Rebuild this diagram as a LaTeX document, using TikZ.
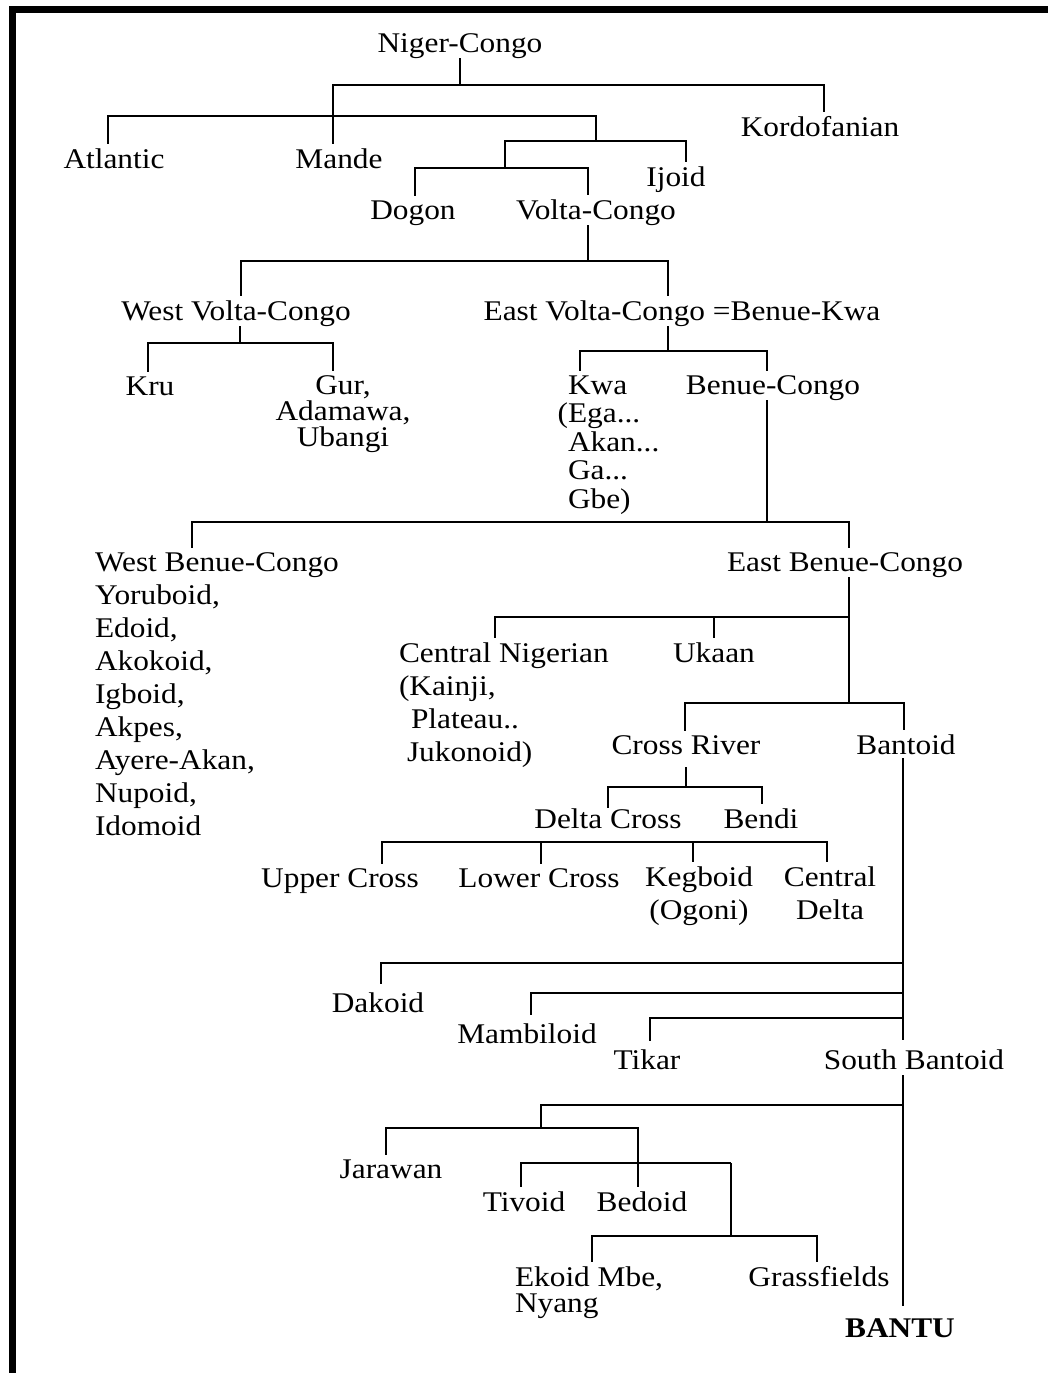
\documentclass[tikz,border=0pt]{standalone}
\usepackage{fontspec}
\setmainfont{Liberation Serif}[FakeStretch=1.1]
\begin{document}
\begin{tikzpicture}[x=1pt, y=-1pt, line width=1.8pt]
  \tikzstyle{lbl}=[inner sep=0pt, outer sep=0pt, anchor=base,
                   font=\fontsize{28.5}{33}\selectfont]
  \tikzstyle{lblleft}=[lbl, anchor=base west, align=left]
  \tikzstyle{drop}=[shorten >=4pt]
\useasboundingbox (0,0) rectangle (1048,1373);
\draw[line width=7pt] (12.5,1373) -- (12.5,9.5) -- (1048,9.5);
% top levels (multi-line nodes sit on their last baseline)
\node[lbl] (nc) at (460,52) {Niger-Congo};
\node[lbl] (kord) at (820,136) {Kordofanian};
\node[lbl] (atl) at (114,168) {Atlantic};
\node[lbl] (mande) at (339,168) {Mande};
\node[lbl] (ijoid) at (676,186) {Ijoid};
\node[lbl] (dogon) at (413,219) {Dogon};
\node[lbl] (vc) at (596,219) {Volta-Congo};
\node[lbl] (wvc) at (236,320) {West Volta-Congo};
\node[lbl] (evc) at (682,320) {East Volta-Congo =Benue-Kwa};
\node[lbl] (kru) at (150,395) {Kru};
\node[lbl, align=center, font=\fontsize{28.5}{26}\selectfont] (gur) at (343,446) {Gur,\\Adamawa,\\Ubangi};
\node[lblleft, font=\fontsize{28.5}{28.5}\selectfont] (kwa) at (568,508) {Kwa\\\llap{(}Ega...\\Akan...\\Ga...\\Gbe)};
\node[lbl] (bc) at (773,394) {Benue-Congo};
% Benue-Congo
\node[lblleft] (wbc) at (95,835) {West Benue-Congo\\Yoruboid,\\Edoid,\\Akokoid,\\Igboid,\\Akpes,\\Ayere-Akan,\\Nupoid,\\Idomoid};
\node[lbl] (ebc) at (845,571) {East Benue-Congo};
\node[lblleft] (cn) at (399,761) {Central Nigerian\\(Kainji,\\\hspace*{12pt}Plateau..\\\hspace*{8pt}Jukonoid)};
\node[lbl] (ukaan) at (714,662) {Ukaan};
\node[lbl] (cr) at (686,754) {Cross River};
\node[lbl] (bantoid) at (906,754) {Bantoid};
\node[lbl] (dc) at (608,828) {Delta Cross};
\node[lbl] (bendi) at (761,828) {Bendi};
\node[lbl] (upc) at (340,887) {Upper Cross};
\node[lbl] (lwc) at (539,887) {Lower Cross};
\node[lbl, align=center] (keg) at (699,919) {Kegboid\\(Ogoni)};
\node[lbl, align=center] (cd) at (830,919) {Central\\Delta};
% Bantoid
\node[lbl] (dak) at (378,1012) {Dakoid};
\node[lbl] (mamb) at (527,1043) {Mambiloid};
\node[lbl] (tikar) at (647,1069) {Tikar};
\node[lbl] (sb) at (914,1069) {South Bantoid};
\node[lbl] (jar) at (391,1178) {Jarawan};
\node[lbl] (tiv) at (524,1211) {Tivoid};
\node[lbl] (bed) at (642,1211) {Bedoid};
\node[lblleft, font=\fontsize{28.5}{26}\selectfont] (ekoid) at (515,1312) {Ekoid Mbe,\\Nyang};
\node[lbl] (grass) at (819,1286) {Grassfields};
\node[lbl] (bantu) at (900,1337) {\bfseries BANTU};
% junctions
\coordinate (j1) at (460,85);
\coordinate (j2) at (333,116);
\coordinate (j3) at (596,141);
\coordinate (j4) at (505,168);
\coordinate (j5) at (588,261);
\coordinate (j6) at (240,343);
\coordinate (j7) at (668,351);
\coordinate (j8) at (767,522);
\coordinate (j9) at (849,617);
\coordinate (j10) at (849,703);
\coordinate (j11) at (686,787);
\coordinate (j12) at (608,842);
\coordinate (j13) at (903,963);
\coordinate (j14) at (903,993);
\coordinate (j15) at (903,1018);
\coordinate (j16) at (903,1105);
\coordinate (j17) at (541,1128);
\coordinate (j18) at (731,1163);
\coordinate (j19) at (731,1236);
% branches
\draw (nc.south) -- (j1);
\draw[drop] (j1) -| ([xshift=-6pt]mande.north);
\draw[drop] (j1) -| ([xshift=4pt]kord.north);
\draw[drop] (j2) -| ([xshift=-6pt]atl.north);
\draw (j2) -| (j3);
\draw[drop] (j3) -| ([xshift=10pt]ijoid.north);
\draw (j3) -| (j4);
\draw[drop] (j4) -| ([xshift=2pt]dogon.north);
\draw[drop] (j4) -| ([xshift=-8pt]vc.north);
\draw (vc.south -| j5) -- (j5);
\draw[drop] (j5) -| ([xshift=5pt]wvc.north);
\draw[drop] (j5) -| ([xshift=-14pt]evc.north);
\draw (wvc.south -| j6) -- (j6);
\draw[drop] (j6) -| ([xshift=-2pt]kru.north);
\draw[drop] (j6) -| ([xshift=-10pt]gur.north);
\draw (evc.south -| j7) -- (j7);
\draw[drop] (j7) -| ([xshift=12pt]kwa.north west);
\draw[drop] (j7) -| ([xshift=-6pt]bc.north);
\draw (bc.south -| j8) -- (j8);
\draw[drop] (j8) -| ([xshift=97pt]wbc.north west);
\draw[drop] (j8) -| ([xshift=4pt]ebc.north);
\draw (ebc.south -| j10) -- (j10);
\draw[drop] (j9) -| ([xshift=96pt]cn.north west);
\draw[drop] (j9) -| (ukaan.north);
\draw[drop] (j10) -| ([xshift=-1pt]cr.north);
\draw[drop] (j10) -| ([xshift=-2pt]bantoid.north);
\draw[shorten <=13pt] (cr.base) -- (j11);
\draw (j11) -| (dc.north);
\draw[drop] (j11) -| ([xshift=1pt]bendi.north);
\draw[drop] (j12) -| ([xshift=42pt]upc.north);
\draw[drop] (j12) -| ([xshift=2pt]lwc.north);
\draw[drop] (j12) -| ([xshift=-6pt]keg.north);
\draw[drop] (j12) -| ([xshift=-3pt]cd.north);
\draw[shorten <=4pt, shorten >=9pt] (bantoid.base -| j13) -- (sb.north -| j13);
\draw[shorten >=8pt] (j13) -| ([xshift=3pt]dak.north);
\draw[shorten >=8pt] (j14) -| ([xshift=4pt]mamb.north);
\draw[shorten >=8pt] (j15) -| ([xshift=3pt]tikar.north);
\draw[shorten <=6pt, shorten >=12pt] (sb.base -| j16) -- ([xshift=3pt]bantu.north);
\draw (j16) -| (j17);
\draw[drop] (j17) -| ([xshift=-5pt]jar.north);
\draw[drop] (j17) -| ([xshift=-4pt]bed.north);
\draw[drop] (j18) -| ([xshift=-3pt]tiv.north);
\draw (j18) -- (j19);
\draw[drop] (j19) -| ([xshift=77pt]ekoid.north west);
\draw[drop] (j19) -| ([xshift=-2pt]grass.north);
\end{tikzpicture}
\end{document}
